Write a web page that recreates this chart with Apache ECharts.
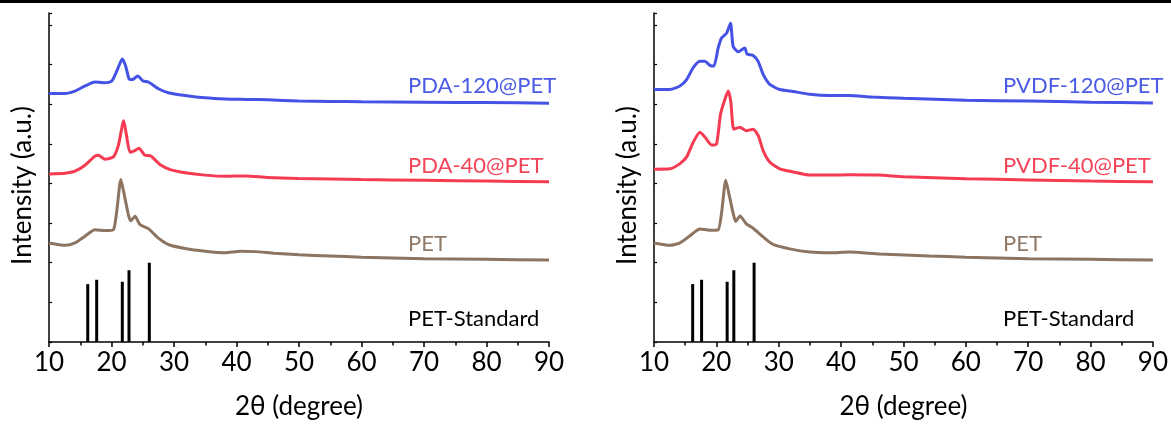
<!DOCTYPE html>
<html>
<head>
<meta charset="utf-8">
<script src="https://cdn.jsdelivr.net/npm/echarts@6/dist/echarts.min.js"></script>
<style>
  html, body { margin: 0; padding: 0; background: #fff; }
  #chart { width: 1171px; height: 425px; }
</style>
</head>
<body>
<div id="chart"></div>
<script>
// ---- Data (2θ in degrees, intensity in offset arbitrary units) ----
const xTicks = [10, 20, 30, 40, 50, 60, 70, 80, 90];

const pda120 = [[10,6.27],[12.56,6.27],[14.16,6.33],[15.76,6.46],[17.36,6.56],[18.7,6.54],[20.03,6.58],[20.83,6.83],[21.73,7.14],[22.27,6.96],[22.8,6.64],[23.33,6.62],[24.19,6.71],[25.1,6.58],[25.9,6.56],[27.5,6.39],[29.1,6.29],[31.76,6.22],[34.96,6.16],[38.2,6.13],[41.4,6.12],[45,6.11],[50,6.08],[55,6.07],[60,6.06],[70,6.05],[80,6.04],[90,6.025]];
const pda40 = [[10,4.24],[12.56,4.26],[14.16,4.31],[15.76,4.46],[17.36,4.69],[17.9,4.71],[18.96,4.61],[20.3,4.67],[21.1,4.96],[21.96,5.58],[22.4,5.21],[22.96,4.79],[23.76,4.83],[24.4,4.89],[25.3,4.72],[26.3,4.69],[27.8,4.47],[29.4,4.35],[31.8,4.27],[35,4.21],[38.2,4.18],[41.4,4.19],[45,4.15],[50,4.125],[60,4.1],[70,4.08],[80,4.06],[90,4.04]];
const petLeft = [[10,2.5],[12.56,2.44],[14.16,2.5],[15.76,2.67],[17.36,2.83],[18.96,2.81],[20.3,2.83],[20.83,3.29],[21.5,4.1],[22.05,3.71],[22.7,3.21],[23.1,3.06],[23.76,3.17],[24.56,2.96],[25.9,2.86],[27.5,2.62],[29.1,2.46],[31.76,2.36],[35,2.29],[38.2,2.25],[40.6,2.29],[43,2.28],[46,2.24],[50,2.2],[55,2.17],[60,2.14],[70,2.1],[80,2.085],[90,2.07]];

const pvdf120 = [[10,6.37],[12.56,6.37],[14.16,6.46],[15.23,6.62],[16.29,6.92],[17.36,7.08],[18.16,7.08],[18.96,6.98],[19.6,6.96],[20.29,7.42],[20.83,7.67],[21.63,7.79],[22.27,8.04],[22.69,7.46],[23.49,7.32],[24.56,7.42],[24.9,7.27],[25.9,7.23],[26.7,7.08],[27.5,6.75],[28.56,6.5],[30.16,6.37],[32.3,6.32],[34.96,6.25],[38.16,6.22],[41.36,6.22],[45,6.18],[50,6.15],[60,6.1],[70,6.08],[80,6.05],[90,6.03]];
const pvdf40 = [[10,4.36],[12.56,4.37],[14.16,4.5],[15.23,4.67],[16.29,5.04],[17.36,5.29],[18.16,5.17],[19.23,4.97],[20.03,5.0],[20.67,5.75],[21.36,6.12],[21.9,6.33],[22.3,6.08],[22.8,5.37],[23.76,5.42],[24.83,5.33],[25.9,5.37],[26.7,5.21],[27.5,4.83],[28.56,4.54],[30.16,4.37],[32.3,4.29],[34.96,4.21],[38.16,4.21],[41.36,4.22],[46,4.21],[50,4.17],[60,4.12],[70,4.09],[80,4.06],[90,4.04]];
const petRight = [[10,2.5],[12.56,2.44],[14.16,2.5],[15.76,2.68],[17.36,2.85],[18.96,2.82],[20.29,2.83],[20.83,3.25],[21.5,4.08],[22.05,3.71],[22.69,3.25],[23.1,3.04],[23.8,3.18],[24.8,2.98],[25.9,2.87],[27.5,2.65],[29.1,2.46],[31.76,2.35],[34.96,2.27],[38.16,2.25],[41.36,2.27],[46.2,2.22],[54.2,2.17],[60,2.14],[70,2.1],[80,2.085],[90,2.07]];

const petStandard = [[16.2,1.46],[17.63,1.57],[21.73,1.52],[22.8,1.81],[26.05,2.0]];

const leftLabels = ['PDA-120@PET', 'PDA-40@PET', 'PET', 'PET-Standard'];
const rightLabels = ['PVDF-120@PET', 'PVDF-40@PET', 'PET', 'PET-Standard'];
const xName = '2θ (degree)';
const yName = 'Intensity (a.u.)';

// ---- Styling ----
const FONT = 'Lato';
const BLUE = '#4452E6';
const RED = '#F43B52';
const BROWN = '#8C7461';
const TXT_BLUE = '#4B5BE3';
const TXT_RED = '#F2455A';
const TXT_BROWN = '#917B68';
const labelColors = [TXT_BLUE, TXT_RED, TXT_BROWN, '#000'];
const labelY = [88, 168, 246, 321];

const chart = echarts.init(document.getElementById('chart'), null, { renderer: 'canvas' });

function xAxisCfg(gi) {
  return {
    gridIndex: gi, type: 'value', min: xTicks[0], max: xTicks[xTicks.length - 1], interval: 10,
    name: xName, nameLocation: 'middle', nameGap: 52,
    nameTextStyle: { fontFamily: FONT, fontSize: 26, color: '#000' },
    axisLine: { show: true, onZero: false, lineStyle: { color: '#000', width: 1.5 } },
    axisTick: { show: true, inside: false, length: 5, lineStyle: { color: '#000', width: 1.5 } },
    minorTick: { show: true, splitNumber: 2, length: 3.5, lineStyle: { color: '#000', width: 1.5 } },
    axisLabel: { fontFamily: FONT, fontSize: 26, color: '#000', margin: 8 },
    splitLine: { show: false }
  };
}
function yAxisCfg(gi) {
  return {
    gridIndex: gi, type: 'value', min: 0, max: 8.3, interval: 1,
    name: yName, nameLocation: 'middle', nameGap: 13,
    nameTextStyle: { fontFamily: FONT, fontSize: 26, color: '#000', padding: [0, 16, 0, 0] },
    axisLine: { show: true, lineStyle: { color: '#000', width: 1.5 } },
    axisTick: { show: true, inside: true, length: 3, lineStyle: { color: '#000', width: 1.2 } },
    axisLabel: { show: false },
    splitLine: { show: false }
  };
}
function lineSeries(gi, data, color) {
  return {
    type: 'line', xAxisIndex: gi, yAxisIndex: gi, data: data,
    showSymbol: false, symbol: 'none', smooth: 0.2, silent: true,
    lineStyle: { color: color, width: 3 }
  };
}
function stickSeries(gi) {
  return {
    type: 'bar', xAxisIndex: gi, yAxisIndex: gi, data: petStandard,
    barWidth: 3, itemStyle: { color: '#000' }, silent: true
  };
}

const graphics = [
  { type: 'rect', shape: { x: 0, y: 0, width: 1171, height: 3 }, style: { fill: '#000' } }
];
leftLabels.forEach((t, i) => graphics.push({
  type: 'text', left: 408, top: labelY[i] - 13,
  style: { text: t, fill: labelColors[i], font: '22px ' + FONT, textVerticalAlign: 'top' }
}));
rightLabels.forEach((t, i) => graphics.push({
  type: 'text', left: 1003, top: labelY[i] - 13,
  style: { text: t, fill: labelColors[i], font: '22px ' + FONT, textVerticalAlign: 'top' }
}));

chart.setOption({
  animation: false,
  backgroundColor: '#fff',
  grid: [
    { left: 49, top: 13, width: 500, height: 332 },
    { left: 654, top: 13, width: 500, height: 332 }
  ],
  xAxis: [xAxisCfg(0), xAxisCfg(1)],
  yAxis: [yAxisCfg(0), yAxisCfg(1)],
  series: [
    lineSeries(0, pda120, BLUE),
    lineSeries(0, pda40, RED),
    lineSeries(0, petLeft, BROWN),
    stickSeries(0),
    lineSeries(1, pvdf120, BLUE),
    lineSeries(1, pvdf40, RED),
    lineSeries(1, petRight, BROWN),
    stickSeries(1)
  ],
  graphic: graphics
});
</script>
</body>
</html>
